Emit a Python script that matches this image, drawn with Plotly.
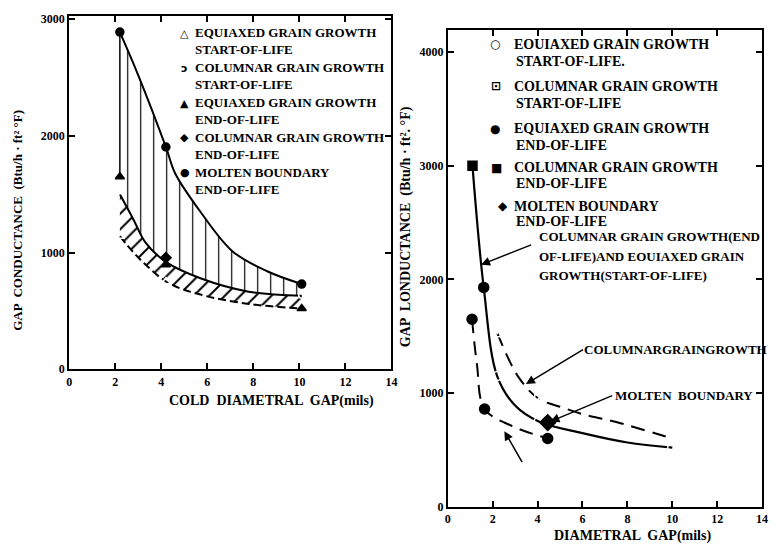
import plotly.graph_objects as go

W, H = 777, 551
FONT = "Liberation Serif"

# ---------------- LEFT PANEL DATA (cold diametral gap, mils / conductance) ----------------
upper_x = [2.2, 3.0, 4.2, 4.6, 5.7, 7.1, 8.6, 10.1]
upper_y = [2890, 2520, 1905, 1680, 1350, 1010, 840, 730]

band_top_x = [2.2, 2.8, 3.3, 4.2, 5.7, 7.8, 10.1]
band_top_y = [1500, 1280, 1090, 920, 780, 665, 630]

band_bot_x = [2.2, 2.8, 3.3, 4.3, 5.7, 7.8, 10.1]
band_bot_y = [1140, 1000, 900, 740, 640, 560, 520]

molten_eol_x = [2.2, 4.2, 10.1]
molten_eol_y = [2890, 1905, 730]
eq_eol_x = [2.2, 4.2, 10.1]
eq_eol_y = [1650, 895, 520]
eq_sol_x = [2.2, 4.2]
eq_sol_y = [1140, 750]
col_sol_x = [2.2, 10.1]
col_sol_y = [1530, 635]
col_eol_x = [4.2]
col_eol_y = [955]

# ---------------- RIGHT PANEL DATA (diametral gap, mils / conductance) ----------------
solid_x = [1.1, 1.6, 2.2, 3.0, 4.05, 6.0, 8.0, 10.0]
solid_y = [3000, 1930, 1150, 890, 750, 647, 565, 520]

coldash_x = [2.2, 3.15, 4.05, 5.0, 6.0, 7.5, 10.0]
coldash_y = [1530, 1140, 950, 880, 815, 745, 600]

eqdash_x = [1.08, 1.3, 1.64, 2.9, 4.45]
eqdash_y = [1650, 1250, 860, 707, 600]

r_eq_sol_x = [2.2, 4.05, 10.0]
r_eq_sol_y = [1150, 750, 520]
r_col_sol_x = [2.2, 4.05, 10.0]
r_col_sol_y = [1530, 950, 600]
r_eq_eol_x = [1.08, 1.6, 1.64, 4.45]
r_eq_eol_y = [1650, 1930, 860, 600]
r_col_eol_x = [1.1]
r_col_eol_y = [3000]
r_molten_x = [4.45]
r_molten_y = [740]

# arrows: (head_x, head_y, tail_x, tail_y) in data units of right panel
arrows = [
    (1.48, 2130, 3.78, 2310),
    (3.48, 1080, 6.09, 1390),
    (4.57, 750, 7.39, 983),
    (2.52, 664, 3.35, 380),
]

x_ticks = [0, 2, 4, 6, 8, 10, 12, 14]
left_y_ticks = [0, 1000, 2000, 3000]
right_y_ticks = [0, 1000, 2000, 3000, 4000]

left_legend = [
    ("△", "EQUIAXED GRAIN GROWTH", "START-OF-LIFE"),
    ("ↄ", "COLUMNAR GRAIN GROWTH", "START-OF-LIFE"),
    ("▲", "EQUIAXED GRAIN GROWTH", "END-OF-LIFE"),
    ("◆", "COLUMNAR GRAIN GROWTH", "END-OF-LIFE"),
    ("●", "MOLTEN BOUNDARY", "END-OF-LIFE"),
]
right_legend = [
    ("○", "EOUIAXED GRAIN GROWTH", "START-OF-LIFE."),
    ("⊡", "COLUMNAR GRAIN GROWTH", "START-OF-LIFE"),
    ("●", "EQUIAXED GRAIN GROWTH", "END-OF-LIFE"),
    ("■", "COLUMNAR GRAIN GROWTH", "END-OF-LIFE"),
    ("◆", "MOLTEN BOUNDARY", "END-OF-LIFE"),
]

# ------------------------------------------------------------------------------------------
def px(x):
    return x / W

def py(y):
    return 1 - y / H

fig = go.Figure()
K = "black"

fig.add_trace(go.Scatter(x=upper_x, y=upper_y, mode="lines", line=dict(color=K, width=2, shape="spline"),
                         xaxis="x", yaxis="y", showlegend=False, hoverinfo="skip"))
fig.add_trace(go.Scatter(x=band_top_x, y=band_top_y, mode="lines", line=dict(color=K, width=2, shape="spline"),
                         fill="tonexty", fillcolor="rgba(0,0,0,0)",
                         fillpattern=dict(shape="|", size=13, solidity=0.09, fgcolor=K, bgcolor="rgba(0,0,0,0)", fillmode="replace"),
                         xaxis="x", yaxis="y", showlegend=False, hoverinfo="skip"))
fig.add_trace(go.Scatter(x=band_bot_x, y=band_bot_y, mode="lines", line=dict(color=K, width=2, shape="spline", dash="8px,4px"),
                         fill="tonexty", fillcolor="rgba(0,0,0,0)",
                         fillpattern=dict(shape="/", size=11, solidity=0.18, fgcolor=K, bgcolor="rgba(0,0,0,0)", fillmode="replace"),
                         xaxis="x", yaxis="y", showlegend=False, hoverinfo="skip"))
fig.add_trace(go.Scatter(x=[molten_eol_x[0], eq_eol_x[0]], y=[molten_eol_y[0], eq_eol_y[0]], mode="lines",
                         line=dict(color=K, width=1.5), xaxis="x", yaxis="y", showlegend=False, hoverinfo="skip"))

def pts(x, y, sym, size, xa, ya, lw=1.5):
    fig.add_trace(go.Scatter(x=x, y=y, mode="markers", xaxis=xa, yaxis=ya, showlegend=False, hoverinfo="skip",
                             marker=dict(symbol=sym, size=size, color=K if "open" not in sym else "white",
                                         line=dict(color=K, width=lw))))

pts(molten_eol_x, molten_eol_y, "circle", 8, "x", "y")
pts(eq_eol_x, eq_eol_y, "triangle-up", 8, "x", "y")
pts(eq_sol_x, eq_sol_y, "triangle-up-open", 8, "x", "y")
pts(col_sol_x, col_sol_y, "circle-open", 6, "x", "y")
pts(col_eol_x, col_eol_y, "diamond", 8, "x", "y")

fig.add_trace(go.Scatter(x=solid_x, y=solid_y, mode="lines", line=dict(color=K, width=2.2, shape="spline", smoothing=1.0),
                         xaxis="x2", yaxis="y2", showlegend=False, hoverinfo="skip"))
fig.add_trace(go.Scatter(x=coldash_x, y=coldash_y, mode="lines", line=dict(color=K, width=2, shape="spline", dash="14px,8px"),
                         xaxis="x2", yaxis="y2", showlegend=False, hoverinfo="skip"))
fig.add_trace(go.Scatter(x=eqdash_x, y=eqdash_y, mode="lines", line=dict(color=K, width=2, shape="spline", dash="14px,8px"),
                         xaxis="x2", yaxis="y2", showlegend=False, hoverinfo="skip"))

pts(r_eq_sol_x, r_eq_sol_y, "circle-open", 9, "x2", "y2")
pts(r_col_sol_x, r_col_sol_y, "square-open-dot", 8, "x2", "y2")
pts(r_eq_eol_x, r_eq_eol_y, "circle", 10, "x2", "y2")
pts(r_col_eol_x, r_col_eol_y, "square", 9, "x2", "y2")
pts(r_molten_x, r_molten_y, "diamond", 12, "x2", "y2")

annotations = []
for hx, hy, tx, ty in arrows:
    annotations.append(dict(x=hx, y=hy, ax=tx, ay=ty, xref="x2", yref="y2", axref="x2", ayref="y2",
                            text="", showarrow=True, arrowhead=2, arrowsize=1.2, arrowwidth=1.5, arrowcolor=K))

TF = dict(family=FONT, size=13, color=K, weight="bold")

def txt(t, x, y, xanchor="left", size=13, angle=0, sym=False, align="left"):
    f = dict(TF)
    f["size"] = size
    if sym:
        f["family"] = "DejaVu Sans"
    annotations.append(dict(text=t, x=px(x), y=py(y), xref="paper", yref="paper", showarrow=False,
                            xanchor=xanchor, yanchor="middle", font=f, textangle=angle, borderpad=0, align=align))

# left legend (two-line entries)
l_rows = [(31, 42), (67, 78), (102, 114), (137, 150), (173, 185)]
for (s, a, b), (y1, y2) in zip(left_legend, l_rows):
    txt(s, 184, y1, xanchor="center", size=11, sym=True)
    txt(a + "<br>" + b, 193, (y1 + y2) / 2 + 2, size=13)

# right legend
r_rows = [(42, 60), (85, 102), (128, 145), (168, 184), (207, 223)]
r_sym_x = [498, 499, 498, 499, 506]
for (s, a, b), (y1, y2), sx in zip(right_legend, r_rows, r_sym_x):
    txt(s, sx, y1, xanchor="center", size=12, sym=True)
    txt(a, 516, y1, size=14)
    txt(b, 518, y2, size=14)

# curve labels right
txt("COLUMNAR GRAIN GROWTH(END", 541, 238, size=13)
txt("OF-LIFE)AND EOUIAXED GRAIN", 541, 258, size=13)
txt("GROWTH(START-OF-LIFE)", 541, 278, size=13)
txt("COLUMNARGRAINGROWTH", 587, 353, size=13)
txt("MOLTEN  BOUNDARY", 618, 400, size=13)

# axis titles
txt("GAP  CONDUCTANCE  (Btu/h · ft² °F)", 15, 221, xanchor="center", size=13, angle=-90)
txt("COLD  DIAMETRAL  GAP(mils)", 272, 405, xanchor="center", size=14)
txt("GAP  LONDUCTANCE  (Btu/h · ft². °F)", 408, 228, xanchor="center", size=14, angle=-90)
txt("DIAMETRAL  GAP(mils)", 637, 543, xanchor="center", size=14)

axis_common = dict(showgrid=False, zeroline=False, showline=True, linecolor=K, linewidth=2, mirror="ticks",
                   ticks="inside", ticklen=6, tickwidth=1.5, tickcolor=K,
                   tickfont=dict(family=FONT, size=12, color=K, weight="bold"))

fig.update_layout(
    width=W, height=H, margin=dict(l=0, r=0, t=0, b=0),
    paper_bgcolor="white", plot_bgcolor="white",
    xaxis=dict(domain=[px(67), px(393)], range=[0, 14], tickvals=x_ticks, anchor="y", **axis_common),
    yaxis=dict(domain=[py(373), py(13)], range=[0, 3030], tickvals=left_y_ticks, anchor="x", **axis_common),
    xaxis2=dict(domain=[px(450), px(768)], range=[0, 14], tickvals=x_ticks, anchor="y2", **axis_common),
    yaxis2=dict(domain=[py(513), py(27)], range=[0, 4200], tickvals=right_y_ticks, anchor="x2", **axis_common),
    annotations=annotations,
    showlegend=False,
)

fig.write_html("out.html", config={"displayModeBar": False},
               post_script="document.body.style.margin='0';document.body.style.overflow='hidden';")
